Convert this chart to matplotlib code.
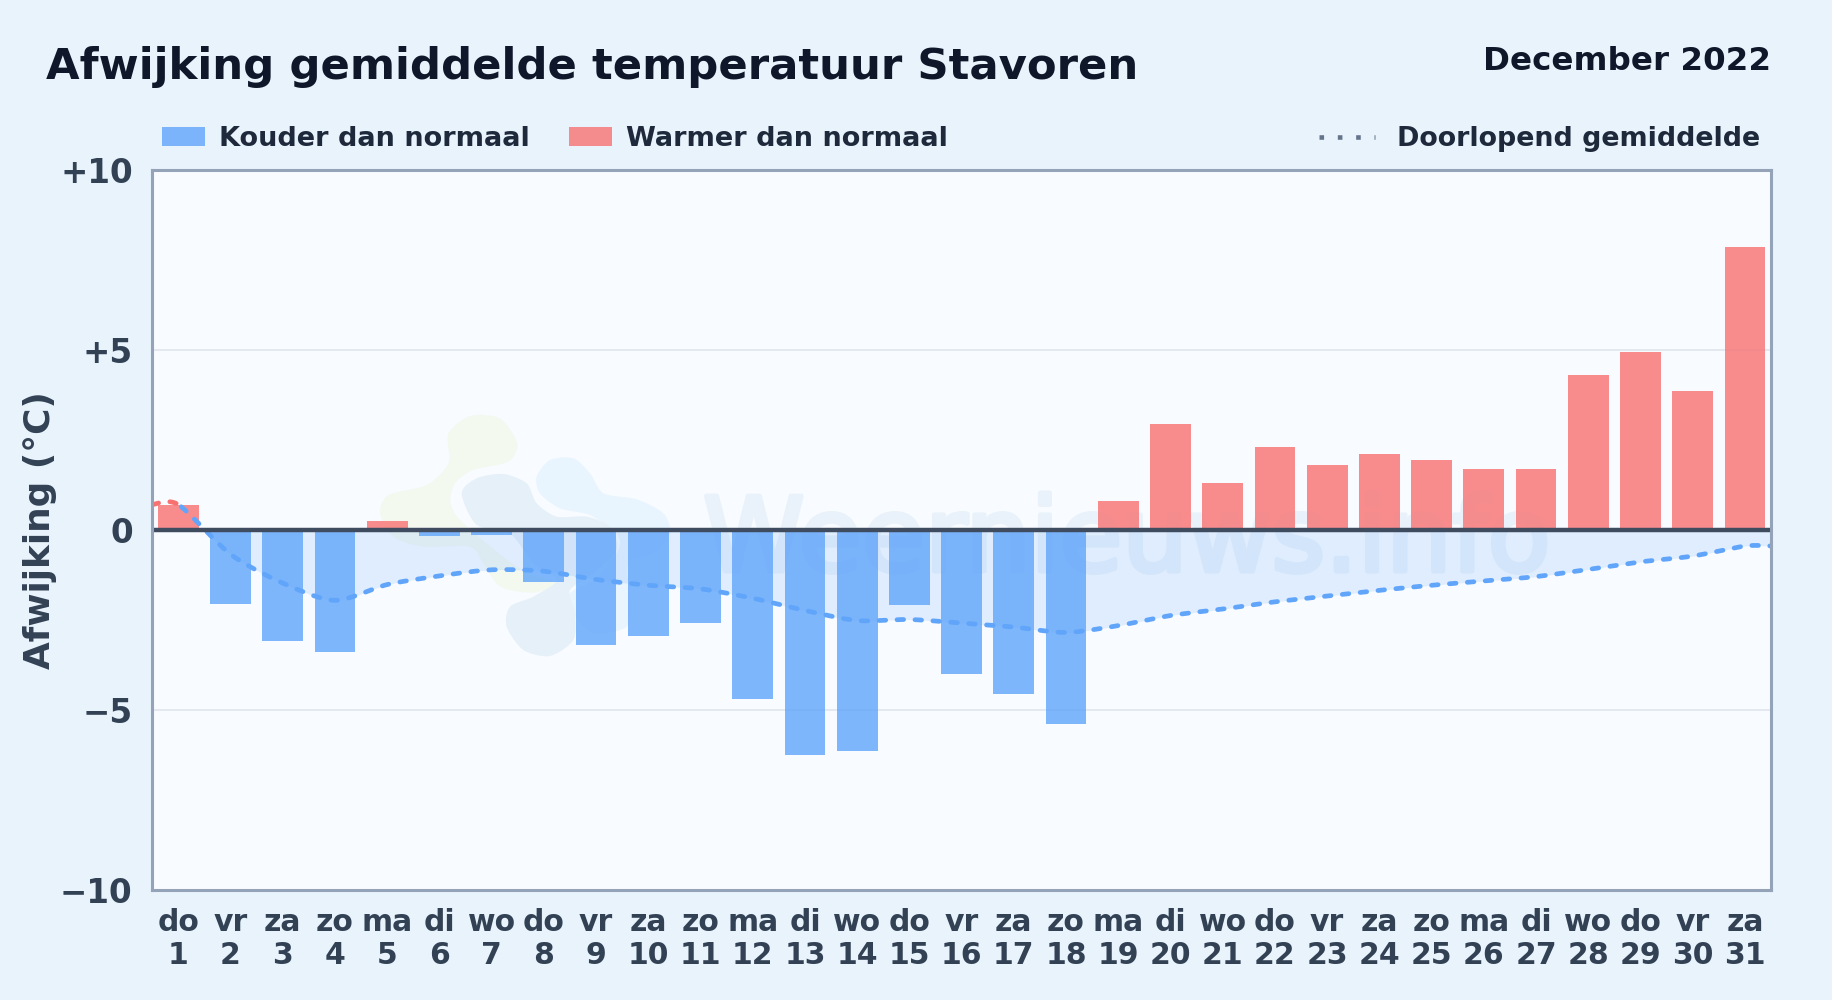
import numpy as np
import matplotlib
matplotlib.use('Agg')
import matplotlib.pyplot as plt
import matplotlib.patheffects as pe
from matplotlib.patches import Patch, Polygon
from matplotlib.lines import Line2D
from matplotlib.transforms import Affine2D

# Daily values
weekdays = ['do', 'vr', 'za', 'zo', 'ma', 'di', 'wo', 'do', 'vr', 'za', 'zo', 'ma', 'di', 'wo', 'do', 'vr',
            'za', 'zo', 'ma', 'di', 'wo', 'do', 'vr', 'za', 'zo', 'ma', 'di', 'wo', 'do', 'vr', 'za']
days = list(range(1, 32))
deviation = [0.7, -2.05, -3.1, -3.4, 0.25, -0.18, -0.15, -1.45, -3.2, -2.95, -2.6, -4.7, -6.25, -6.15, -2.1, -4.0,
             -4.55, -5.4, 0.8, 2.95, 1.3, 2.3, 1.8, 2.1, 1.95, 1.7, 1.7, 4.3, 4.95, 3.85, 7.85]
running_mean = [0.7, -0.68, -1.48, -1.96, -1.52, -1.28, -1.11, -1.15, -1.38, -1.54, -1.64, -1.9, -2.24, -2.52,
                -2.49, -2.59, -2.7, -2.85, -2.66, -2.38, -2.2, -2.0, -1.84, -1.68, -1.54, -1.42, -1.3, -1.1,
                -0.89, -0.73, -0.45]
y_ticks = [-10, -5, 0, 5, 10]
y_tick_labels = ['\u221210', '\u22125', '0', '+5', '+10']

BG = '#e8f3fc'
BLUE = '#60a5fa'
RED = '#f87171'
TEXT = '#334155'


def smooth(x, y, steps=12, closed=False):
    # Curve through the points, only used to draw the line and the logo
    x = np.asarray(x, float)
    y = np.asarray(y, float)
    if closed:
        px = np.r_[x[-1], x, x[0], x[1]]
        py = np.r_[y[-1], y, y[0], y[1]]
    else:
        px = np.r_[x[0], x, x[-1]]
        py = np.r_[y[0], y, y[-1]]
    t = np.linspace(0, 1, steps, endpoint=False)
    h00, h10 = 2 * t**3 - 3 * t**2 + 1, t**3 - 2 * t**2 + t
    h01, h11 = -2 * t**3 + 3 * t**2, t**3 - t**2
    xs, ys = [], []
    for i in range(1, len(px) - 2):
        for p, out in ((px, xs), (py, ys)):
            m1 = 0.4 * (p[i + 1] - p[i - 1])
            m2 = 0.4 * (p[i + 2] - p[i])
            out.append(h00 * p[i] + h10 * m1 + h01 * p[i + 1] + h11 * m2)
    if not closed:
        xs.append(x[-1:])
        ys.append(y[-1:])
    return np.concatenate(xs), np.concatenate(ys)


plt.rcParams['font.family'] = 'DejaVu Sans'
plt.rcParams['font.weight'] = 'bold'

fig = plt.figure(figsize=(18.32, 10), dpi=100, facecolor=BG)
ax = fig.add_axes([152.2 / 1832, 1 - 890 / 1000, (1771 - 152.2) / 1832, (890 - 169.6) / 1000])
ax.set_facecolor('#f8fbff')

# Watermark logo and name, placed in image pixels
px = Affine2D().scale(1 / 1832, -1 / 1000).translate(0, 1) + fig.transFigure
green_blob = [(265, 100), (330, 48), (420, 55), (472, 130), (445, 185), (340, 210), (285, 250), (272, 310),
              (310, 370), (470, 500), (590, 550), (520, 578), (420, 560), (370, 490), (330, 440), (190, 440),
              (100, 410), (60, 340), (85, 285), (200, 255), (265, 190)]
grey_blob = [(305, 280), (350, 235), (430, 222), (500, 250), (530, 310), (590, 350), (680, 350), (750, 380),
             (770, 450), (700, 520), (630, 570), (645, 640), (640, 720), (570, 768), (490, 750), (440, 680),
             (450, 620), (520, 590), (590, 540), (520, 490), (450, 400), (350, 375)]
blue_blob = [(530, 230), (570, 180), (640, 175), (690, 220), (730, 280), (830, 298), (910, 340), (930, 400),
             (880, 460), (805, 490), (810, 600), (800, 680), (700, 700), (640, 640), (630, 580), (700, 540),
             (775, 450), (770, 400), (690, 345), (600, 325), (540, 280)]
for color, pts in (('#f4f9f0', green_blob), ('#e8f4fe', blue_blob), ('#e6f0f8', grey_blob)):
    bx, by = smooth([360 + p[0] / 3 for p in pts], [400 + p[1] / 3 for p in pts], closed=True)
    ax.add_patch(Polygon(np.c_[bx, by], closed=True, color=color, lw=0, transform=px, zorder=0.5))
ax.text(703, 571, 'Weernieuws.info', color='#e9f2fa', fontsize=74, fontweight='normal', ha='left', va='baseline',
        transform=px, zorder=0.6, path_effects=[pe.withStroke(linewidth=3.5, foreground='#e9f2fa')])

x = np.array(days)
ax.grid(axis='y', color='#e2e8f0', lw=1.3, zorder=1)
ax.set_axisbelow(True)

line_x = [0.5] + days + [31.5]
line_y = [running_mean[0]] + running_mean + [running_mean[-1]]
sx, sy = smooth(line_x, line_y)
ax.fill_between(sx, sy, 0, where=sy < 0, interpolate=True, color=BLUE, alpha=0.16, lw=0, zorder=1.5)

colors = [RED if v > 0 else BLUE for v in deviation]
ax.bar(x, deviation, width=0.78, color=colors, alpha=0.8, lw=0, zorder=2)

first = sx <= 1
ax.plot(sx[~first], sy[~first], color=BLUE, lw=3.4, dashes=(1.4, 2.4), dash_capstyle='round', zorder=3)
ax.plot(sx[first], sy[first], color=RED, lw=3.4, dashes=(1.4, 2.4), dash_capstyle='round', zorder=3)

ax.axhline(0, color='#3f4b5f', lw=3.2, zorder=4)

ax.set_xlim(0.5, 31.5)
ax.set_ylim(-10, 10)
ax.set_yticks(y_ticks)
ax.set_yticklabels(y_tick_labels, fontsize=23.5, color=TEXT)
ax.set_xticks(x)
ax.set_xticklabels([f'{w}\n{d}' for w, d in zip(weekdays, days)], fontsize=21.5, color=TEXT, linespacing=1.15)
ax.tick_params(length=0, axis='y', pad=14)
ax.tick_params(length=0, axis='x', pad=13)
for s in ax.spines.values():
    s.set_color('#94a3b8')
    s.set_linewidth(2.2)
    s.set_zorder(5)

fig.text(46 / 1832, 1 - 79 / 1000, 'Afwijking gemiddelde temperatuur Stavoren', fontsize=31.25,
         color='#0f172a', va='baseline')
fig.text(1771 / 1832, 1 - 70 / 1000, 'December 2022', fontsize=23.4, color='#0f172a', ha='right', va='baseline')
fig.text(40 / 1832, 1 - 530 / 1000, 'Afwijking (\u00b0C)', fontsize=25.8, color=TEXT, rotation=90,
         ha='center', va='center')

# Legend
handles = [Patch(facecolor=BLUE, alpha=0.8, lw=0, label='Kouder dan normaal'),
           Patch(facecolor=RED, alpha=0.8, lw=0, label='Warmer dan normaal')]
fig.legend(handles=handles, loc='center left', bbox_to_anchor=(162 / 1832, 1 - 139 / 1000), ncol=2, frameon=False,
           fontsize=19.5, labelcolor='#1e293b', handlelength=1.6, handleheight=0.7, handletextpad=0.5,
           columnspacing=1.45, borderpad=0, borderaxespad=0)
mean_handle = Line2D([], [], color='#64748b', lw=3.3, dashes=(1, 3), label='Doorlopend gemiddelde')
fig.legend(handles=[mean_handle], loc='center right', bbox_to_anchor=(1760 / 1832, 1 - 139 / 1000), frameon=False,
           fontsize=19.4, labelcolor='#1e293b', handlelength=2.1, handletextpad=0.8, borderpad=0, borderaxespad=0)

fig.savefig('out.png', dpi=100, facecolor=BG)
